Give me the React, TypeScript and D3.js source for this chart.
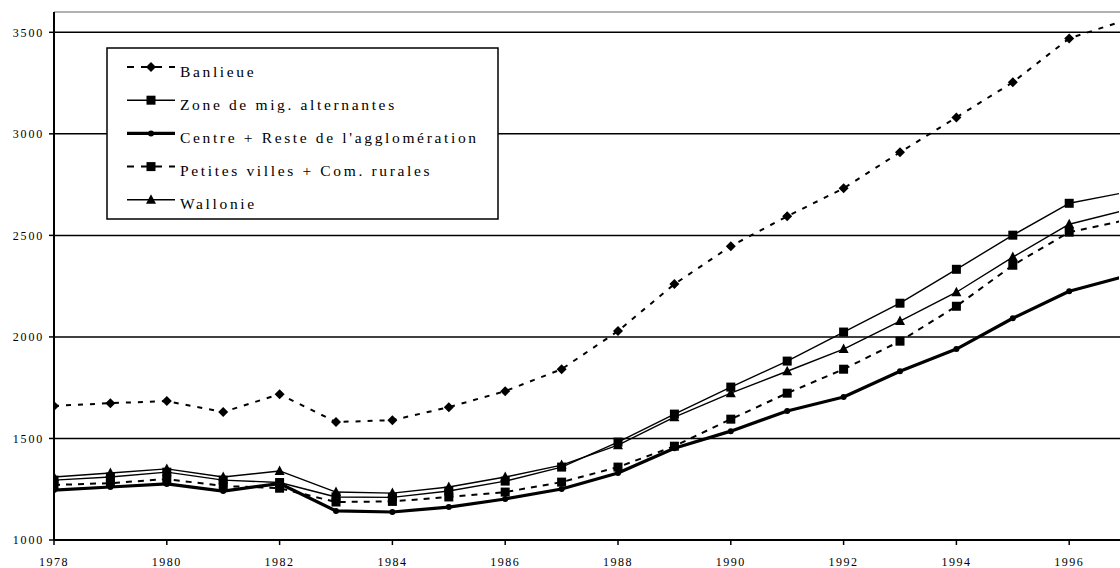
import React from "react";
import * as d3 from "d3";

const years = [1978,1979,1980,1981,1982,1983,1984,1985,1986,1987,1988,1989,1990,1991,1992,1993,1994,1995,1996,1997];
const banlieue = [1660,1674,1684,1630,1718,1581,1590,1654,1733,1841,2029,2260,2447,2594,2732,2909,3081,3254,3470,3560];
const zoneMig = [1295,1310,1334,1295,1283,1212,1210,1241,1290,1359,1482,1620,1753,1881,2024,2166,2333,2501,2658,2712];
const centre = [1246,1261,1276,1241,1278,1143,1138,1162,1202,1251,1330,1452,1536,1635,1704,1831,1940,2092,2225,2299];
const petites = [1271,1280,1300,1266,1255,1187,1190,1212,1236,1285,1359,1462,1595,1723,1841,1979,2151,2353,2516,2575];
const wallonie = [1310,1330,1350,1310,1340,1236,1231,1261,1310,1369,1467,1605,1723,1831,1940,2078,2220,2393,2555,2624];
const yTicks = [1000,1500,2000,2500,3000,3500];
const xTicks = [1978,1980,1982,1984,1986,1988,1990,1992,1994,1996];

type S = { name: string; values: number[]; width: number; dash?: string; marker: string; msize: number };
const series: S[] = [
  { name: "Banlieue", values: banlieue, width: 2, dash: "5,7", marker: "diamond", msize: 5 },
  { name: "Zone de mig. alternantes", values: zoneMig, width: 1.4, marker: "square", msize: 4.5 },
  { name: "Centre + Reste de l'agglomération", values: centre, width: 3.2, marker: "circle", msize: 3 },
  { name: "Petites villes + Com. rurales", values: petites, width: 2, dash: "6,6", marker: "square", msize: 4.5 },
  { name: "Wallonie", values: wallonie, width: 1.4, marker: "triangle", msize: 5 },
];

const W = 1120, H = 568;
const x = d3.scaleLinear().domain([1978, 1997]).range([54, 54 + 19 * 56.4]);
const y = d3.scaleLinear().domain([1000, 3600]).range([540, 12]);

function Marker({ kind, cx, cy, s }: { kind: string; cx: number; cy: number; s: number }) {
  if (kind === "square") return <rect x={cx - s} y={cy - s} width={2 * s} height={2 * s} fill="#000" />;
  if (kind === "circle") return <circle cx={cx} cy={cy} r={s} fill="#000" />;
  if (kind === "diamond") return <path d={`M${cx},${cy - s}L${cx + s},${cy}L${cx},${cy + s}L${cx - s},${cy}Z`} fill="#000" />;
  return <path d={`M${cx},${cy - s * 1.1}L${cx + s},${cy + s * 0.8}L${cx - s},${cy + s * 0.8}Z`} fill="#000" />;
}

export default function App() {
  const line = d3.line<number>().x((_, i) => x(years[i])).y((v) => y(v));
  const font = "'Liberation Serif', 'Times New Roman', serif";
  const legX = 107, legY = 48, legW = 391, legH = 171;
  return (
    <svg width={W} height={H} style={{ position: "absolute", left: 0, top: 0, background: "#fff" }} fontFamily={font}>
      <defs>
        <clipPath id="plot"><rect x={54} y={0} width={W - 54 - 1} height={H} /></clipPath>
      </defs>
      <rect x={0} y={0} width={W} height={H} fill="#fff" />
      <line x1={54} x2={W} y1={y(3600)} y2={y(3600)} stroke="#999" strokeWidth={1.5} />
      {yTicks.filter((t) => t > 1000).map((t) => (
        <line key={t} x1={54} x2={W} y1={y(t)} y2={y(t)} stroke="#000" strokeWidth={1.5} />
      ))}
      <line x1={54} x2={54} y1={y(3600)} y2={y(1000)} stroke="#000" strokeWidth={2} />
      <line x1={54} x2={W} y1={y(1000)} y2={y(1000)} stroke="#000" strokeWidth={2} />
      {yTicks.map((t) => (
        <g key={t}>
          <line x1={49} x2={54} y1={y(t)} y2={y(t)} stroke="#000" strokeWidth={1.5} />
          <text x={44} y={y(t)} dy="0.35em" textAnchor="end" fontSize={12} letterSpacing={1.8}>{t}</text>
        </g>
      ))}
      {xTicks.map((t) => (
        <g key={t}>
          <line x1={x(t)} x2={x(t)} y1={540} y2={545} stroke="#000" strokeWidth={1.5} />
          <text x={x(t)} y={566} textAnchor="middle" fontSize={12} letterSpacing={1.5}>{t}</text>
        </g>
      ))}
      <g clipPath="url(#plot)">
        {series.map((s) => (
          <g key={s.name}>
            <path d={line(s.values) || ""} fill="none" stroke="#000" strokeWidth={s.width} strokeDasharray={s.dash} strokeLinejoin="round" />
            {s.values.map((v, i) => (
              <Marker key={i} kind={s.marker} cx={x(years[i])} cy={y(v)} s={s.msize} />
            ))}
          </g>
        ))}
      </g>
      <rect x={legX} y={legY} width={legW} height={legH} fill="#fff" stroke="#000" strokeWidth={1.5} />
      {series.map((s, i) => {
        const cy = 72 + i * 33.2;
        return (
          <g key={s.name}>
            <line x1={127} x2={175} y1={cy - 5} y2={cy - 5} stroke="#000" strokeWidth={s.width} strokeDasharray={s.dash ? "7,7" : undefined} />
            <Marker kind={s.marker} cx={151} cy={cy - 5} s={s.msize} />
            <text x={180} y={cy} dy="0.3em" fontSize={15.5} letterSpacing={2.65}>{s.name}</text>
          </g>
        );
      })}
    </svg>
  );
}
